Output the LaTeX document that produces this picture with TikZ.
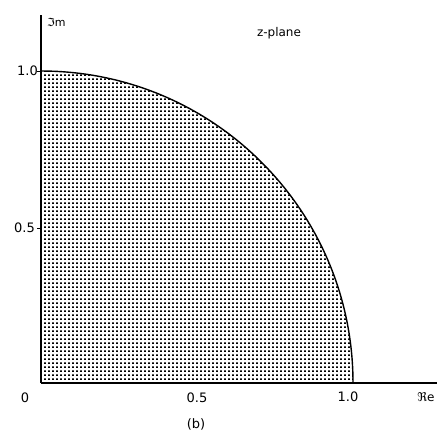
\documentclass[tikz,border=0pt]{standalone}
\usepackage{fontspec}
\setmainfont{DejaVu Sans}
\usetikzlibrary{patterns}
\pgfdeclarepatternformonly{mydots}{\pgfpointorigin}{\pgfpoint{4pt}{4.4pt}}{\pgfpoint{4pt}{4.4pt}}{\pgfpathrectangle{\pgfpointorigin}{\pgfpoint{2.2pt}{1.8pt}}\pgfusepath{fill}}
\begin{document}
\begin{tikzpicture}[x=1pt,y=-1pt,
  lbl/.style={font=\fontsize{13}{13}\selectfont, inner sep=0pt},
  axis/.style={line width=1.8pt},
  rim/.style={line width=1.4pt}]
\useasboundingbox (0,0) rectangle (438,432);
\coordinate (O) at (41,383);
\coordinate (ytop) at (41,15);
\coordinate (xend) at (437,383);
\coordinate (y1) at (41,71);
\coordinate (yh) at (41,228);
\coordinate (x1) at (353,383);
% shaded region
\fill[pattern=mydots] (O) -- (y1) arc[start angle=-90,end angle=0,radius=312] -- cycle;
% rim
\draw[rim] (y1) arc[start angle=-90,end angle=0,radius=312];
% axes
\draw[axis] (O) -- (ytop);
\draw[axis] (O) -- (xend);
\draw[line width=1pt] (yh) -- ++(-4,0);
\draw[line width=1pt] (y1) -- ++(-4,0);
% labels
\node[lbl, anchor=west, font=\fontsize{11}{11}\selectfont] (im) at (47,22) {ℑm};
\node[lbl, anchor=east] (l1y) at (38,71) {1.0};
\node[lbl, anchor=east] (lhy) at (35,228) {0.5};
\node[lbl] (l0) at (25,398) {0};
\node[lbl] (lhx) at (197,398) {0.5};
\node[lbl] (l1x) at (348,397) {1.0};
\node[lbl, font=\fontsize{12}{12}\selectfont] (re) at (426,397) {ℜe};
\node[lbl, font=\fontsize{12}{12}\selectfont] (zp) at (279,33) {z-plane};
\node[lbl] (b) at (196,424) {(b)};
\end{tikzpicture}
\end{document}
